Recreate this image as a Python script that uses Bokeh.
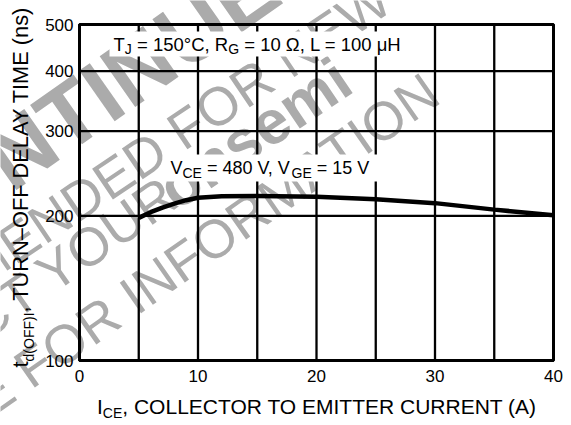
import math
from bokeh.plotting import figure
from bokeh.models import (Label, BoxAnnotation, FixedTicker, NumeralTickFormatter, Range1d,
                          LinearAxis, LogAxis)
from bokeh.embed import file_html
from bokeh.resources import INLINE

# ---------------- data ----------------
ice = [5, 6, 7, 8, 9, 10, 12, 15, 20, 25, 30, 35, 40]
td_off = [198, 203.5, 208, 212, 215.5, 218, 219.5, 220, 219, 216.5, 212.5, 206, 200.5]
x_ticks = [0, 10, 20, 30, 40]
x_minor = [5, 15, 25, 35]
y_ticks = [100, 200, 300, 400, 500]
x_lim = [0, 40]
y_lim = [100, 500]

# ---------------- layout (page pixels) ----------------
PL, PT, PW, PH = 79, 24, 474, 336          # plot area in page pixels
W, H = 563, 421
FONT = "Liberation Sans"
K = 0.3465                                 # label anchor -> baseline correction (em)

def X(px):
    return x_lim[0] + (px - PL) / PW * (x_lim[1] - x_lim[0])

def Y(py):
    frac = (PT + PH - py) / PH
    return 10 ** (math.log10(y_lim[0]) + frac * math.log10(y_lim[1] / y_lim[0]))

p = figure(width=W, height=H, x_range=Range1d(X(0), X(W)), y_range=Range1d(Y(H), Y(0)),
           y_axis_type="log", x_axis_location=None, y_axis_location=None,
           output_backend="svg", toolbar_location=None,
           min_border_left=0, min_border_right=0, min_border_top=0, min_border_bottom=0)
p.background_fill_color = "white"
p.border_fill_color = "white"
p.outline_line_color = None
p.xgrid.visible = False
p.ygrid.visible = False

# ---------------- grid, frame, curve ----------------
x_grid = sorted(x_ticks + x_minor)
p.segment(x0=x_grid, y0=[y_lim[0]] * len(x_grid), x1=x_grid, y1=[y_lim[1]] * len(x_grid),
          line_color="black", line_width=2.3)
p.segment(x0=[x_lim[0]] * len(y_ticks), y0=y_ticks, x1=[x_lim[1]] * len(y_ticks), y1=y_ticks,
          line_color="black", line_width=2.3)
p.quad(left=[x_lim[0]], right=[x_lim[1]], bottom=[y_lim[0]], top=[y_lim[1]],
       fill_color=None, line_color="black", line_width=3)
p.line(ice, td_off, line_color="black", line_width=4.5)

# ---------------- axes (library axes pinned to the plot corner) ----------------
xax = LinearAxis(fixed_location=y_lim[0], bounds=tuple(x_lim),
                 ticker=FixedTicker(ticks=x_ticks))
yax = LogAxis(fixed_location=x_lim[0], bounds=tuple(y_lim),
              ticker=FixedTicker(ticks=y_ticks), formatter=NumeralTickFormatter(format="0"))
for ax in (xax, yax):
    ax.axis_line_color = "black"
    ax.axis_line_width = 3
    ax.major_tick_line_color = None
    ax.minor_tick_line_color = None
    ax.major_tick_out = 0
    ax.major_tick_in = 0
    ax.minor_tick_out = 0
    ax.minor_tick_in = 0
    ax.major_label_text_font = FONT
    ax.major_label_text_font_size = "17px"
    ax.major_label_text_color = "black"
xax.major_label_standoff = 9
yax.major_label_standoff = 6
p.add_layout(xax, "below")
p.add_layout(yax, "left")

# ---------------- text helpers ----------------
REG = {' ': 278, ',': 278, '(': 333, ')': 333, '=': 584, '°': 400, '–': 556, '.': 278,
       'A': 667, 'B': 667, 'C': 722, 'D': 722, 'E': 667, 'F': 611, 'G': 778, 'H': 722,
       'I': 278, 'J': 500, 'K': 667, 'L': 556, 'M': 833, 'N': 722, 'O': 778, 'P': 667,
       'R': 722, 'S': 667, 'T': 611, 'U': 722, 'V': 667, 'W': 944, 'Y': 667,
       'd': 556, 'n': 556, 's': 500, 't': 278, 'o': 556, 'e': 556, 'm': 833, 'i': 222,
       'Ω': 768, 'μ': 576}
BOLD = {' ': 278, 'D': 722, 'I': 278, 'S': 667, 'C': 722, 'O': 778, 'N': 722, 'T': 611,
        'U': 722, 'E': 667, 'o': 611, 'n': 611, 's': 556, 'e': 556, 'm': 889, 'i': 278}

def tw(s, size, bold=False):
    tab = BOLD if bold else REG
    return sum(tab.get(c, 556) for c in s) * size / 1000.0

def put(text, bx, by, size, th=0.0, color="black", bold=False, level="annotation"):
    """Place text whose alphabetic baseline starts at page pixel (bx, by)."""
    ax_ = bx - K * size * math.sin(th)
    ay_ = by - K * size * math.cos(th)
    p.add_layout(Label(x=X(ax_), y=Y(ay_), text=text, text_font=FONT,
                       text_font_size=f"{size}px", text_color=color,
                       text_font_style=("bold" if bold else "normal"),
                       text_baseline="alphabetic", text_align="left",
                       angle=th, level=level))

def rich(parts, px, py, vertical=False):
    pos = 0.0
    th = math.pi / 2 if vertical else 0.0
    for text, size, shift in parts:
        lead = len(text) - len(text.lstrip(" "))
        start = pos + tw(" " * lead, size)
        if vertical:
            x, y = px + shift, py - start
        else:
            x, y = px + start, py + shift
        put(text.strip(" "), x, y, size, th)
        pos += tw(text, size)

WM_COLOR = "#ababab"

def wm(text, idx, cx, cy, size, bold, deg):
    adv = tw(text[:idx], size, bold) + tw(text[idx], size, bold) / 2
    h = (0.716 if text[idx].isupper() else 0.519) * size / 2
    th = math.radians(deg)
    bx = cx - adv * math.cos(th) + h * math.sin(th)
    by = cy + adv * math.sin(th) + h * math.cos(th)
    put(text, bx, by, size, th, WM_COLOR, bold, "image")

# ---------------- watermark ----------------
wm("DISCONTINUED", 8, 138, 65, 90, True, 35)
l1 = "NOT RECOMMENDED FOR NEW DESIGN"
wm(l1, l1.index("FOR"), 187, 125, 54, False, 34)
l2 = "CONTACT YOUR"
wm(l2, l2.index("YOUR"), 61, 264, 54, False, 35)
wm("onsemi", 2, 244, 146, 62, True, 34)
l3 = "REPRESENTATIVE FOR INFORMATION"
wm(l3, l3.index("INFORMATION") + 1, 160, 275, 54, False, 35)

# ---------------- annotations ----------------
p.add_layout(BoxAnnotation(left=X(109), right=X(406), top=Y(31), bottom=Y(56),
                           fill_color="white", fill_alpha=1, line_color=None))
p.add_layout(BoxAnnotation(left=X(166), right=X(377), top=Y(154), bottom=Y(181),
                           fill_color="white", fill_alpha=1, line_color=None))

rich([("T", 18.5, 0), ("J", 14, 3.5), (" = 150°C, R", 18.5, 0), ("G", 14, 3.5),
      (" = 10 Ω, L = 100 μH", 18.5, 0)], 113, 50)
rich([("V", 18, 0), ("CE", 14, 4), (" = 480 V, V", 18, 0), ("GE", 14, 4),
      (" = 15 V", 18, 0)], 170, 173.5)

# axis titles
rich([("I", 21, 0), ("CE", 14, 3.5), (", COLLECTOR TO EMITTER CURRENT (A)", 21, 0)], 96.5, 413.5)
rich([("t", 21.8, 0), ("d(OFF)I", 14, 5.5), (", TURN–OFF DELAY TIME (ns)", 21.8, 0)],
     27.5, 367, vertical=True)

open("out.html", "w").write(file_html(p, INLINE))
